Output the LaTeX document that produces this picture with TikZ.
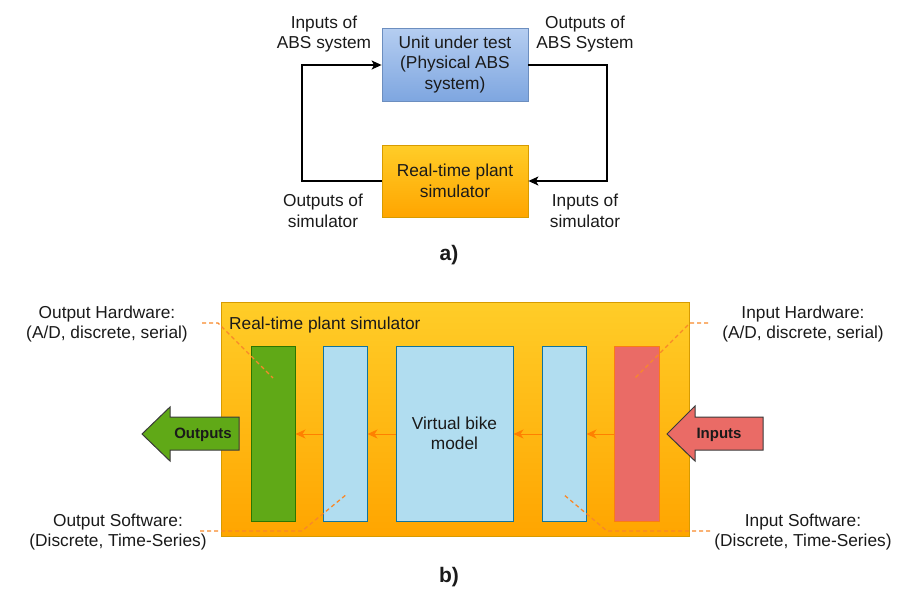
\documentclass[tikz,border=0pt]{standalone}
\usepackage{fontspec}
\setmainfont{Liberation Sans}
\usetikzlibrary{arrows.meta,calc}
\definecolor{bluetop}{HTML}{DAE8FC}
\definecolor{bluebot}{HTML}{7EA6E0}
\definecolor{blueln}{HTML}{6C8EBF}
\definecolor{orgtop}{HTML}{FFCD28}
\definecolor{orgbot}{HTML}{FFA500}
\definecolor{orgln}{HTML}{D79B00}
\definecolor{grnfill}{HTML}{60A917}
\definecolor{grnln}{HTML}{2D7600}
\definecolor{ltblue}{HTML}{B1DDF0}
\definecolor{ltblueln}{HTML}{10739E}
\definecolor{redfill}{HTML}{EA6B66}
\definecolor{flow}{HTML}{FF8000}
\definecolor{dashc}{HTML}{F8882A}
\definecolor{arrln}{HTML}{3A3A3A}
\definecolor{txt}{HTML}{1A1A1A}
\tikzset{
  lbl/.style={font=\fontsize{17.3}{20.5}\selectfont, text=txt, align=center, inner sep=0pt},
  bluebox/.style={draw=blueln, top color=bluetop!60!bluebot, bottom color=bluebot, line width=0.8pt},
  orgbox/.style={draw=orgln, top color=orgtop, bottom color=orgbot, line width=0.8pt},
  loopline/.style={draw=black, line width=1.4pt, -{Stealth[length=10pt,width=9pt,inset=2.5pt]}},
  flowline/.style={draw=flow, line width=1pt, -{Stealth[length=10pt,width=9pt,inset=3pt]}},
  annot/.style={draw=dashc, line width=1.3pt, dash pattern=on 4pt off 3pt},
  bar/.style={line width=1pt, inner sep=0pt},
}
\begin{document}
\begin{tikzpicture}[x=1pt,y=-1pt]
\useasboundingbox (0,0) rectangle (898,590);
% ---------- part a ----------
\node[bluebox, minimum width=146pt, minimum height=73pt, lbl] (uut) at (455,64.5) {Unit under test\\(Physical ABS\\system)};
\node[orgbox, minimum width=146pt, minimum height=72pt, lbl] (sim) at (455,181) {Real-time plant\\simulator};
\coordinate (lt) at (302,65);
\coordinate (lb) at (302,181);
\coordinate (rt) at (607,65);
\coordinate (rb) at (607,181);
\draw[loopline] (sim.west) -- (lb) -- (lt) -- (uut.west |- lt);
\draw[loopline] (uut.east |- rt) -- (rt) -- (rb) -- (sim.east);
\node[lbl] (inabs) at (324,34) {Inputs of\\ABS system};
\node[lbl] (outabs) at (585,34) {Outputs of\\ABS System};
\node[lbl] (outsim) at (323,211) {Outputs of\\simulator};
\node[lbl] (insim) at (585,211) {Inputs of\\simulator};
\node[font=\fontsize{21}{24}\bfseries\selectfont, text=txt, inner sep=0pt] (la) at (449,255) {a)};
% ---------- part b ----------
\node[orgbox, minimum width=468pt, minimum height=234pt, inner sep=0pt] (plant) at (455,419) {};
\node[lbl, anchor=west] (plantlbl) at (229,325) {Real-time plant simulator};
\node[bar, draw=grnln, fill=grnfill, minimum width=44pt, minimum height=175pt] (ohw) at (273,433.5) {};
\node[bar, draw=ltblueln, fill=ltblue, minimum width=44pt, minimum height=175pt] (osw) at (345,433.5) {};
\node[bar, draw=ltblueln, fill=ltblue, minimum width=117pt, minimum height=175pt, lbl] (vbm) at (454.5,433.5) {Virtual bike\\model};
\node[bar, draw=ltblueln, fill=ltblue, minimum width=44pt, minimum height=175pt] (isw) at (564,433.5) {};
\node[bar, draw=flow!80!redfill, fill=redfill, minimum width=45pt, minimum height=175pt] (ihw) at (636.5,433.5) {};
\draw[flowline] (ihw.west |- 0,434) -- (isw.east |- 0,434);
\draw[flowline] (isw.west |- 0,434) -- (vbm.east |- 0,434);
\draw[flowline] (vbm.west |- 0,434) -- (osw.east |- 0,434);
\draw[flowline] (osw.west |- 0,434) -- (ohw.east |- 0,434);
% block arrows
\draw[draw=arrln, fill=grnfill, line width=1pt] (142,434) -- (170,407) -- (170,417) -- (239,417) -- (239,450) -- (170,450) -- (170,461) -- cycle;
\node[font=\fontsize{15}{18}\bfseries\selectfont, text=txt, inner sep=0pt] (outarr) at (203,435) {Outputs};
\draw[draw=arrln, fill=redfill, line width=1pt] (667,434) -- (695,406) -- (695,417) -- (763,417) -- (763,450) -- (695,450) -- (695,461) -- cycle;
\node[font=\fontsize{15}{18}\bfseries\selectfont, text=txt, inner sep=0pt] (inarr) at (719,435) {Inputs};
% annotations
\node[lbl] (ohwl) at (107,324) {Output Hardware:\\(A/D, discrete, serial)};
\node[lbl] (oswl) at (118,532) {Output Software:\\(Discrete, Time-Series)};
\node[lbl] (ihwl) at (803,324) {Input Hardware:\\(A/D, discrete, serial)};
\node[lbl] (iswl) at (803,532) {Input Software:\\(Discrete, Time-Series)};
\coordinate (a1) at (202,323); \coordinate (a2) at (218,323); \coordinate (a3) at (273,378);
\coordinate (b1) at (200,531); \coordinate (b2) at (302,531); \coordinate (b3) at (347,494);
\coordinate (c1) at (708,323); \coordinate (c2) at (690,323); \coordinate (c3) at (635,378);
\coordinate (d1) at (710,531); \coordinate (d2) at (607,531); \coordinate (d3) at (563,494);
\draw[annot] (a1) -- (a2) -- (a3);
\draw[annot] (b1) -- (b2) -- (b3);
\draw[annot] (c1) -- (c2) -- (c3);
\draw[annot] (d1) -- (d2) -- (d3);
\node[font=\fontsize{21}{24}\bfseries\selectfont, text=txt, inner sep=0pt] (lb) at (449,577) {b)};
\end{tikzpicture}
\end{document}
